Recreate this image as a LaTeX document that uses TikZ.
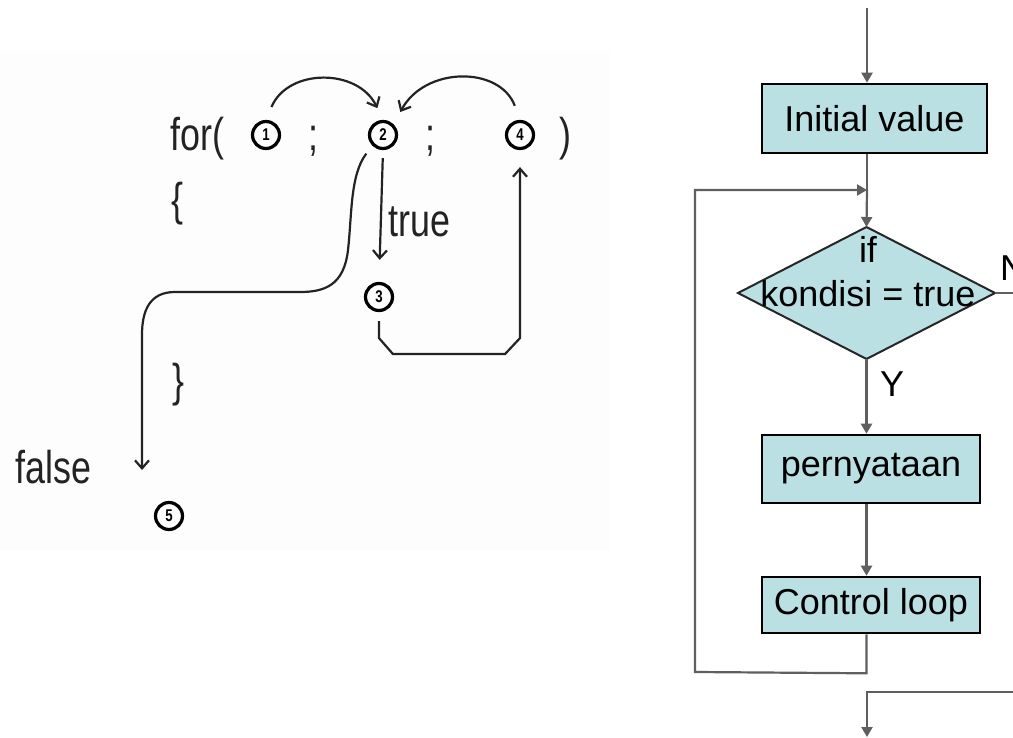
\documentclass[tikz,border=0pt]{standalone}
\usepackage{fontspec}
\setmainfont{Liberation Sans}
\newfontfamily\narrowfont[FakeStretch=0.78]{Liberation Sans}
\usetikzlibrary{arrows.meta,shapes.geometric}
\definecolor{boxfill}{RGB}{187,224,227}
\definecolor{flowline}{RGB}{95,95,95}
\definecolor{panelbg}{RGB}{253,253,253}
\definecolor{codeink}{RGB}{35,35,35}

\begin{document}
\begin{tikzpicture}[x=1pt,y=-1pt,
  code/.style={font=\narrowfont\fontsize{46}{46}\selectfont, text=codeink, inner sep=0pt},
  stepnum/.style={circle, draw=black, line width=3.2pt, minimum size=27pt, inner sep=0pt,
    font=\narrowfont\bfseries\fontsize{17}{17}\selectfont},
  codearrow/.style={line width=2.2pt, draw=codeink, -{Straight Barb[length=8pt,width=14pt]}},
  procbox/.style={rectangle, draw=black, line width=2.6pt, fill=boxfill, inner sep=0pt,
    font=\fontsize{36}{36}\selectfont},
  decision/.style={diamond, draw=black!85, line width=2pt, fill=boxfill, inner sep=0pt, outer sep=0pt},
  flowtext/.style={font=\fontsize{36}{36}\selectfont, inner sep=0pt},
  flow/.style={line width=2.2pt, draw=flowline, -{Triangle[length=10pt,width=11pt]}},
  flowplain/.style={line width=2.2pt, draw=flowline}
]
\useasboundingbox (0,0) rectangle (1013,738);
\fill[white] (0,0) rectangle (1013,738);
\clip (0,0) rectangle (1013,738);

% ---------- left: the for statement with numbered steps ----------
\fill[panelbg] (0,52) rectangle (610,550);

\node[code, anchor=base west] (for) at (170,151) {for(};
\node[code, anchor=base] (semi1) at (313,151) {;};
\node[code, anchor=base] (semi2) at (430,151) {;};
\node[code, anchor=base] (close) at (565,151) {)};
\node[code, anchor=base] (open) at (177,216) {\{};
\node[code, anchor=base] (shut) at (178,396) {\}};
\node[code, anchor=base west] (truelbl) at (388,237) {true};
\node[code, anchor=base west] (falselbl) at (15,483) {false};

\node[stepnum] (c1) at (266,135) {1};
\node[stepnum] (c2) at (383,135) {2};
\node[stepnum] (c3) at (379,297) {3};
\node[stepnum] (c4) at (520,135) {4};
\node[stepnum] (c5) at (169,516) {5};

\coordinate (fend) at (142,470);

% init -> condition, increment -> condition
\draw[codearrow, shorten <=14pt, shorten >=13pt]
  (c1.north) .. controls (288,68) and (358,68) .. (c2.north);
\draw[codearrow, shorten <=15pt, shorten >=14pt]
  (c4.north) .. controls (500,66) and (425,66) .. (c2.north east);
% condition true -> body
\draw[codearrow, shorten <=8pt, shorten >=22pt] (c2.south) -- (c3.north);
% body -> increment
\draw[codearrow, shorten <=9pt, shorten >=17pt]
  (c3.south) -- ++(0,26) -- ++(14,16) -- ++(112,0) -- ++(15,-16) -- (c4.south);
% condition false -> after the loop
\draw[codearrow, shorten <=10pt]
  (c2.south west) .. controls (350,175) and (352,215) .. (348,250)
  .. controls (344,285) and (325,292) .. (300,292) -- (175,292)
  .. controls (150,292) and (142,310) .. (142,335) -- (fend);

% ---------- right: flowchart of the for loop ----------
\coordinate (entry) at (867,8);
\node[procbox, minimum width=225pt, minimum height=69pt] (iv) at (874.5,118.5) {Initial value};
\node[decision, minimum width=257pt, minimum height=132pt] (dia) at (866.5,293) {};
\node[flowtext, anchor=base] (iftxt) at (868,263) {if};
\node[flowtext, anchor=base] (condtxt) at (868,307) {kondisi = true};
\node[procbox, minimum width=218pt, minimum height=68pt] (pn) at (871,469) {pernyataan};
\node[procbox, minimum width=218pt, minimum height=56pt] (cl) at (871,605) {Control loop};
\node[flowtext, anchor=base west] (ylbl) at (880,396) {Y};
\node[flowtext, anchor=base west] (nlbl) at (1000,281) {N};

\coordinate (join) at (867,190);
\coordinate (nout) at (1013,293);
\coordinate (bin) at (1013,692);
\coordinate (bout) at (867,737);

\draw[flow] (entry) -- (entry |- iv.north);
\draw[flowplain] (entry |- iv.south) -- (join);
\draw[flow] (join) -- (dia.north);
\draw[flow] (dia.south) -- (dia.south |- pn.north);
\draw[flow] (dia.south |- pn.south) -- (dia.south |- cl.north);
\draw[flow] (dia.south |- cl.south) -- ++(0,39) -- (695,672) -- (695,190) -- (join);
\draw[flowplain] (dia.east) -- (nout);
\draw[flow] (bin) -- (867,692) -- (bout);
\end{tikzpicture}
\end{document}
